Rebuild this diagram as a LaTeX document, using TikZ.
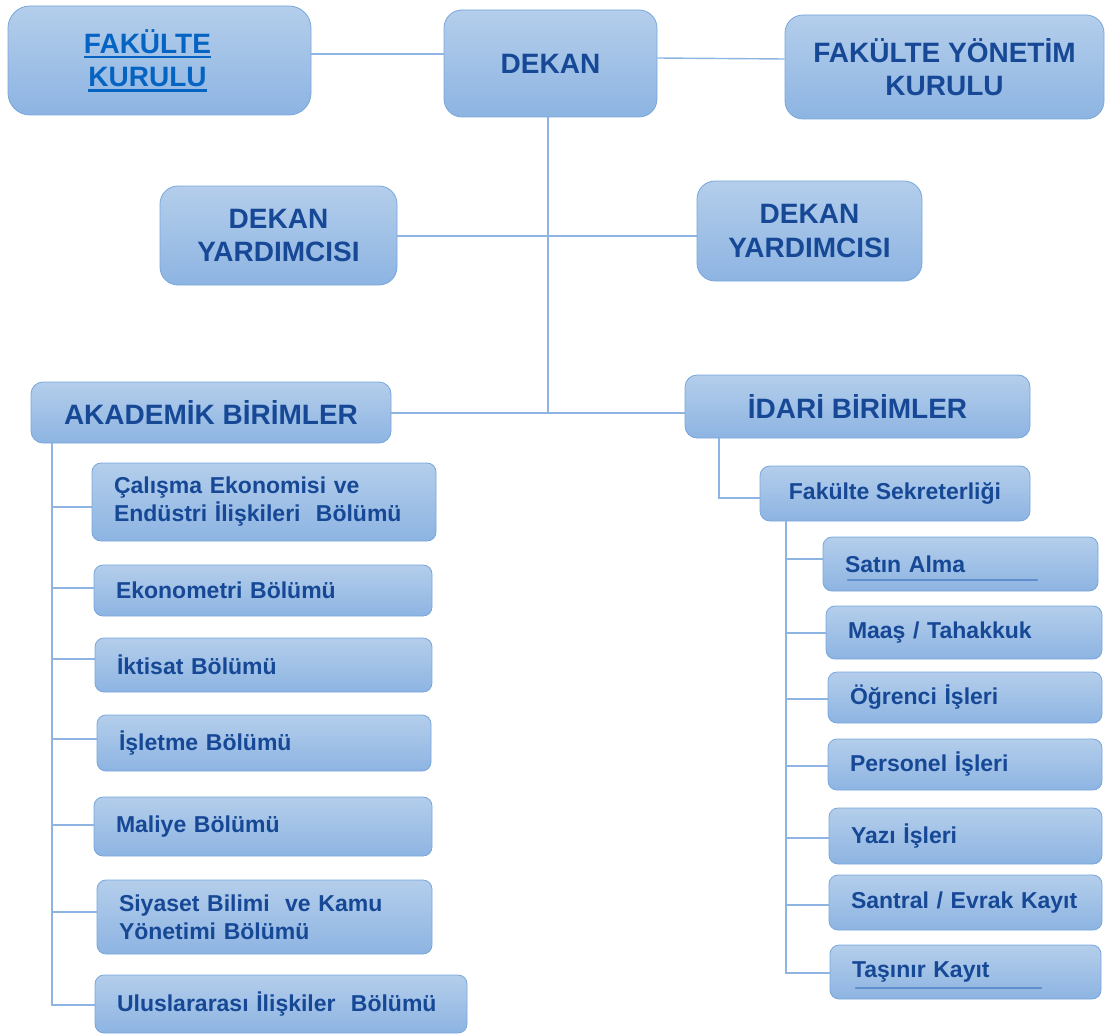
\documentclass[tikz,border=0pt]{standalone}
\usepackage{fontspec}
\setmainfont{Liberation Sans}
\definecolor{boxtop}{RGB}{180,206,235}
\definecolor{boxbot}{RGB}{141,180,226}
\definecolor{boxedge}{RGB}{120,166,220}
\definecolor{txtblue}{RGB}{22,72,150}
\definecolor{linkblue}{RGB}{5,99,193}
\definecolor{conn}{RGB}{141,180,226}
\definecolor{artline}{RGB}{96,142,204}
\newcommand\myuline[1]{\vtop{\hbox{#1}\kern2.5pt\hrule height 2.4pt}}
\tikzset{
  orgbox/.style={draw=boxedge, line width=0.8pt, top color=boxtop, bottom color=boxbot,
    rounded corners=#1, text=txtblue, font=\bfseries, align=center, inner sep=0pt},
  orgbox/.default=14pt,
  bigtext/.style={font=\fontsize{28}{33.5}\selectfont\bfseries},
  smalltext/.style={font=\fontsize{23}{28}\selectfont\bfseries},
  subbox/.style={orgbox=9pt, smalltext, align=left, inner xsep=22pt, inner ysep=0pt},
  connline/.style={draw=conn, line width=1.4pt},
  artstroke/.style={draw=artline, line width=1.2pt, line cap=round}
}
\begin{document}
\begin{tikzpicture}[x=1pt,y=-1pt]
\useasboundingbox (0,0) rectangle (1107,1035);

% top row
\node[orgbox=22pt, bigtext, text=linkblue, minimum width=303pt, minimum height=109pt] (fk) at (159.5,60.5)
  {\myuline{FAKÜLTE}\kern24pt\\\myuline{KURULU}\kern24pt};
\node[orgbox=18pt, bigtext, minimum width=213pt, minimum height=107pt] (dekan) at (550.5,63.5) {DEKAN};
\node[orgbox=18pt, bigtext, minimum width=319pt, minimum height=104pt] (fyk) at (944.5,67) {FAKÜLTE YÖNETİM\\KURULU};

% deputies
\node[orgbox=18pt, bigtext, minimum width=237pt, minimum height=99pt] (dy1) at (278.5,235.5) {DEKAN\\YARDIMCISI};
\node[orgbox=18pt, bigtext, minimum width=225pt, minimum height=100pt] (dy2) at (809.5,231) {DEKAN\\YARDIMCISI};

% units
\node[orgbox=12pt, bigtext, minimum width=360pt, minimum height=61pt] (ak) at (211,412.5) {AKADEMİK BİRİMLER};
\node[orgbox=12pt, bigtext, minimum width=345pt, minimum height=63pt] (id) at (857.5,406.5) {İDARİ BİRİMLER};
\node[orgbox=10pt, smalltext, minimum width=270pt, minimum height=55pt] (fs) at (895,493.5) {Fakülte Sekreterliği};

% academic departments
\node[subbox, text width=300pt, minimum height=78pt] (c1) at (264,502) {Çalışma Ekonomisi ve\\Endüstri İlişkileri\ \ Bölümü};
\node[subbox, text width=294pt, minimum height=51pt] (c2) at (263,590.5) {Ekonometri Bölümü};
\node[subbox, text width=293pt, minimum height=54pt] (c3) at (263.5,665) {İktisat Bölümü};
\node[subbox, text width=290pt, minimum height=56pt] (c4) at (264,743) {İşletme Bölümü};
\node[subbox, text width=294pt, minimum height=59pt] (c5) at (263,826.5) {Maliye Bölümü};
\node[subbox, text width=291pt, minimum height=74pt] (c6) at (264.5,917) {Siyaset Bilimi\ \ ve Kamu\\Yönetimi Bölümü};
\node[subbox, text width=328pt, minimum height=58pt] (c7) at (281,1004) {Uluslararası İlişkiler\ \ Bölümü};

% administrative units
\node[subbox, text width=231pt, minimum height=54pt] (r1) at (960.5,564) {Satın Alma};
\node[subbox, text width=232pt, minimum height=53pt] (r2) at (964,632.5) {Maaş / Tahakkuk};
\node[subbox, text width=230pt, minimum height=51pt] (r3) at (965,697.5) {Öğrenci İşleri};
\node[subbox, text width=230pt, minimum height=51pt] (r4) at (965,764.5) {Personel İşleri};
\node[subbox, text width=229pt, minimum height=56pt] (r5) at (965.5,836) {Yazı İşleri};
\node[subbox, text width=229pt, minimum height=55pt] (r6) at (965.5,902.5) {Santral / Evrak Kayıt};
\node[subbox, text width=227pt, minimum height=54pt] (r7) at (965.5,972) {Taşınır Kayıt};

% faint strokes under two labels
\draw[artstroke] ([xshift=25pt]r1.west |- 0,580) -- ([xshift=-61pt]r1.east |- 0,580);
\draw[artstroke] ([xshift=26pt]r7.west |- 0,988) -- ([xshift=-60pt]r7.east |- 0,988);

% connectors
\coordinate (hub) at (548,413);
\coordinate (lt) at (52,1005);
\coordinate (rt) at (786,973);
\coordinate (it) at (719,498);

\draw[connline] (fk.east |- 0,54) -- (dekan.west |- 0,54);
\draw[connline] (dekan.east |- 0,58) -- (fyk.west |- 0,59);
\draw[connline] (dekan.south -| hub) -- (hub);
\draw[connline] (dy1.east |- 0,236) -- (dy2.west |- 0,236);
\draw[connline] (ak.east |- hub) -- (id.west |- hub);

\draw[connline] (ak.south -| lt) -- (lt) -- (c7.west |- lt);
\draw[connline] (lt |- 0,507) -- (c1.west |- 0,507);
\draw[connline] (lt |- 0,588) -- (c2.west |- 0,588);
\draw[connline] (lt |- 0,659) -- (c3.west |- 0,659);
\draw[connline] (lt |- 0,739) -- (c4.west |- 0,739);
\draw[connline] (lt |- 0,825) -- (c5.west |- 0,825);
\draw[connline] (lt |- 0,912) -- (c6.west |- 0,912);

\draw[connline] (id.south -| it) -- (it) -- (fs.west |- it);
\draw[connline] (fs.south -| rt) -- (rt) -- (r7.west |- rt);
\draw[connline] (rt |- 0,559) -- (r1.west |- 0,559);
\draw[connline] (rt |- 0,633) -- (r2.west |- 0,633);
\draw[connline] (rt |- 0,699) -- (r3.west |- 0,699);
\draw[connline] (rt |- 0,766) -- (r4.west |- 0,766);
\draw[connline] (rt |- 0,838) -- (r5.west |- 0,838);
\draw[connline] (rt |- 0,905) -- (r6.west |- 0,905);
\end{tikzpicture}
\end{document}
